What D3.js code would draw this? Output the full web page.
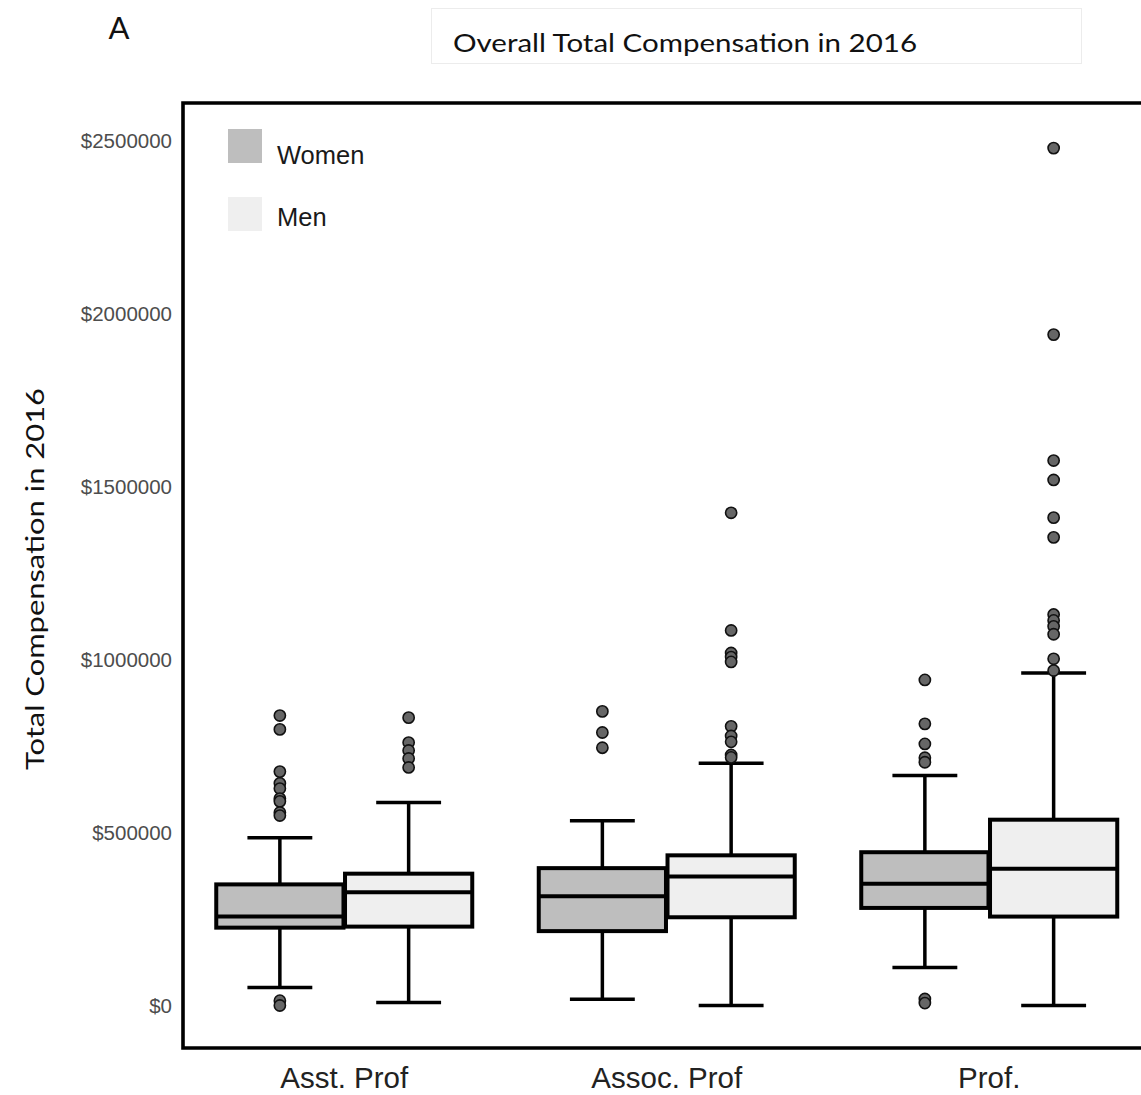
<!DOCTYPE html>
<html><head><meta charset="utf-8">
<script src="https://cdn.jsdelivr.net/npm/d3@7"></script>
<style>body{margin:0;background:#fff}svg{display:block}</style>
</head><body>
<svg id="c" width="1141" height="1095"></svg>
<script>
const categories = ["Asst. Prof", "Assoc. Prof", "Prof."];
const genders = ["Women", "Men"];
const genderFill = ["#bebebe", "#efefef"];
const yTicks = [0, 500000, 1000000, 1500000, 2000000, 2500000];

const womenQ1 = [225000, 215000, 282000];
const womenMedian = [257000, 316000, 352000];
const womenQ3 = [350000, 397000, 443000];
const womenLow = [52000, 18000, 110000];
const womenHigh = [485000, 534000, 665000];
const womenOutliers = [
  [838000, 798000, 676000, 642000, 627000, 598000, 590000, 558000, 549000, 14000, 0],
  [850000, 789000, 745000],
  [941000, 814000, 756000, 716000, 703000, 19000, 7000]
];
const menQ1 = [228000, 255000, 257000];
const menMedian = [327000, 373000, 395000];
const menQ3 = [381000, 434000, 537000];
const menLow = [9000, 0, 0];
const menHigh = [587000, 700000, 961000];
const menOutliers = [
  [832000, 760000, 737000, 714000, 688000],
  [1424000, 1084000, 1019000, 1007000, 993000, 807000, 779000, 762000, 724000, 717000],
  [2478000, 1939000, 1575000, 1519000, 1410000, 1353000, 1130000, 1113000, 1096000, 1073000, 1002000, 968000]
];

const stats = [
  {g: "Women", q1: womenQ1, med: womenMedian, q3: womenQ3, lo: womenLow, hi: womenHigh, out: womenOutliers},
  {g: "Men", q1: menQ1, med: menMedian, q3: menQ3, lo: menLow, hi: menHigh, out: menOutliers}
];
const boxes = [];
stats.forEach(s => categories.forEach((c, i) => boxes.push({
  cat: c, g: s.g, q1: s.q1[i], med: s.med[i], q3: s.q3[i], lo: s.lo[i], hi: s.hi[i], out: s.out[i]
})));

const svg = d3.select("#c");
const panel = {left: 183, right: 1150.5, top: 103, bottom: 1048};

const x = d3.scaleBand().domain(categories).range([panel.left, panel.right]).padding(0);
const dodgeW = 256;
const inner = d3.scaleBand().domain(genders).range([0, dodgeW]).paddingInner(0.012);
const y = d3.scaleLinear().domain([0, 2500000]).range([1005.5, 140.5]);
const fill = d3.scaleOrdinal().domain(genders).range(genderFill);

const bx = d => x(d.cat) + (x.bandwidth() - dodgeW) / 2 + inner(d.g);
const bw = inner.bandwidth();
const cx = d => bx(d) + bw / 2;

// Title box & title
svg.append("rect").attr("x", 431.5).attr("y", 8.5).attr("width", 650).attr("height", 55)
  .attr("fill", "#fff").attr("stroke", "#ececec").attr("stroke-width", 1);
svg.append("text").attr("x", 685).attr("y", 52).attr("text-anchor", "middle")
  .attr("font-family", "Lato").attr("font-size", 25.5).attr("fill", "#111")
  .attr("textLength", 464).attr("lengthAdjust", "spacingAndGlyphs")
  .text("Overall Total Compensation in 2016");
svg.append("text").attr("x", 119).attr("y", 39).attr("text-anchor", "middle")
  .attr("font-family", "Lato").attr("font-size", 31).attr("fill", "#111").text("A");

// Y axis title
svg.append("text").attr("transform", "translate(44,579) rotate(-90)").attr("text-anchor", "middle")
  .attr("font-family", "Lato").attr("font-size", 25.5).attr("fill", "#111")
  .attr("textLength", 382).attr("lengthAdjust", "spacingAndGlyphs")
  .text("Total Compensation in 2016");

// Y axis labels (no ticks)
const yAxis = d3.axisLeft(y).tickValues(yTicks).tickSize(0).tickPadding(0)
  .tickFormat(d => "$" + d3.format("d")(d));
const gy = svg.append("g").attr("transform", "translate(172,0)").call(yAxis);
gy.select(".domain").remove();
gy.selectAll("text").attr("font-family", "Liberation Sans").attr("font-size", 20.5).attr("fill", "#4d4d4d");

// X axis labels
const xAxis = d3.axisBottom(x).tickSize(0).tickPadding(0);
const gx = svg.append("g").attr("transform", "translate(0,1067)").call(xAxis);
gx.select(".domain").remove();
gx.selectAll("text").attr("font-family", "Liberation Sans").attr("font-size", 29.5).attr("fill", "#222").attr("dy", "0.71em");

// Whiskers
const bg = svg.append("g");
bg.selectAll("line.wh").data(boxes).join("line").attr("class", "wh")
  .attr("x1", cx).attr("x2", cx).attr("y1", d => y(d.lo)).attr("y2", d => y(d.hi))
  .attr("stroke", "#000").attr("stroke-width", 3.5);
["lo", "hi"].forEach(k => {
  bg.selectAll("line.cap" + k).data(boxes).join("line").attr("class", "cap" + k)
    .attr("x1", d => cx(d) - bw * 0.255).attr("x2", d => cx(d) + bw * 0.255)
    .attr("y1", d => y(d[k])).attr("y2", d => y(d[k]))
    .attr("stroke", "#000").attr("stroke-width", 3.5);
});
// Boxes
bg.selectAll("rect.box").data(boxes).join("rect").attr("class", "box")
  .attr("x", bx).attr("width", bw).attr("y", d => y(d.q3)).attr("height", d => y(d.q1) - y(d.q3))
  .attr("fill", d => fill(d.g)).attr("stroke", "#000").attr("stroke-width", 4);
bg.selectAll("line.med").data(boxes).join("line").attr("class", "med")
  .attr("x1", bx).attr("x2", d => bx(d) + bw).attr("y1", d => y(d.med)).attr("y2", d => y(d.med))
  .attr("stroke", "#000").attr("stroke-width", 4);
// Outliers
const pts = boxes.flatMap(d => d.out.map(v => ({d, v})));
bg.selectAll("circle.out").data(pts).join("circle").attr("class", "out")
  .attr("cx", p => cx(p.d)).attr("cy", p => y(p.v)).attr("r", 5.6)
  .attr("fill", "#666").attr("stroke", "#111").attr("stroke-width", 1.6);

// Panel border (left, top, bottom)
svg.append("path")
  .attr("d", `M${panel.right + 10},${panel.top} H${panel.left} V${panel.bottom} H${panel.right + 10}`)
  .attr("fill", "none").attr("stroke", "#000").attr("stroke-width", 3.6);

// Legend
const legend = svg.append("g");
genders.forEach((g, i) => {
  legend.append("rect").attr("x", 228).attr("y", 129 + i * 68).attr("width", 34).attr("height", 34)
    .attr("fill", fill(g));
  legend.append("text").attr("x", 277).attr("y", 155 + i * 62).attr("dy", "0.35em")
    .attr("font-family", "Liberation Sans").attr("font-size", 25.5).attr("fill", "#1a1a1a").text(g);
});
</script>
</body></html>
